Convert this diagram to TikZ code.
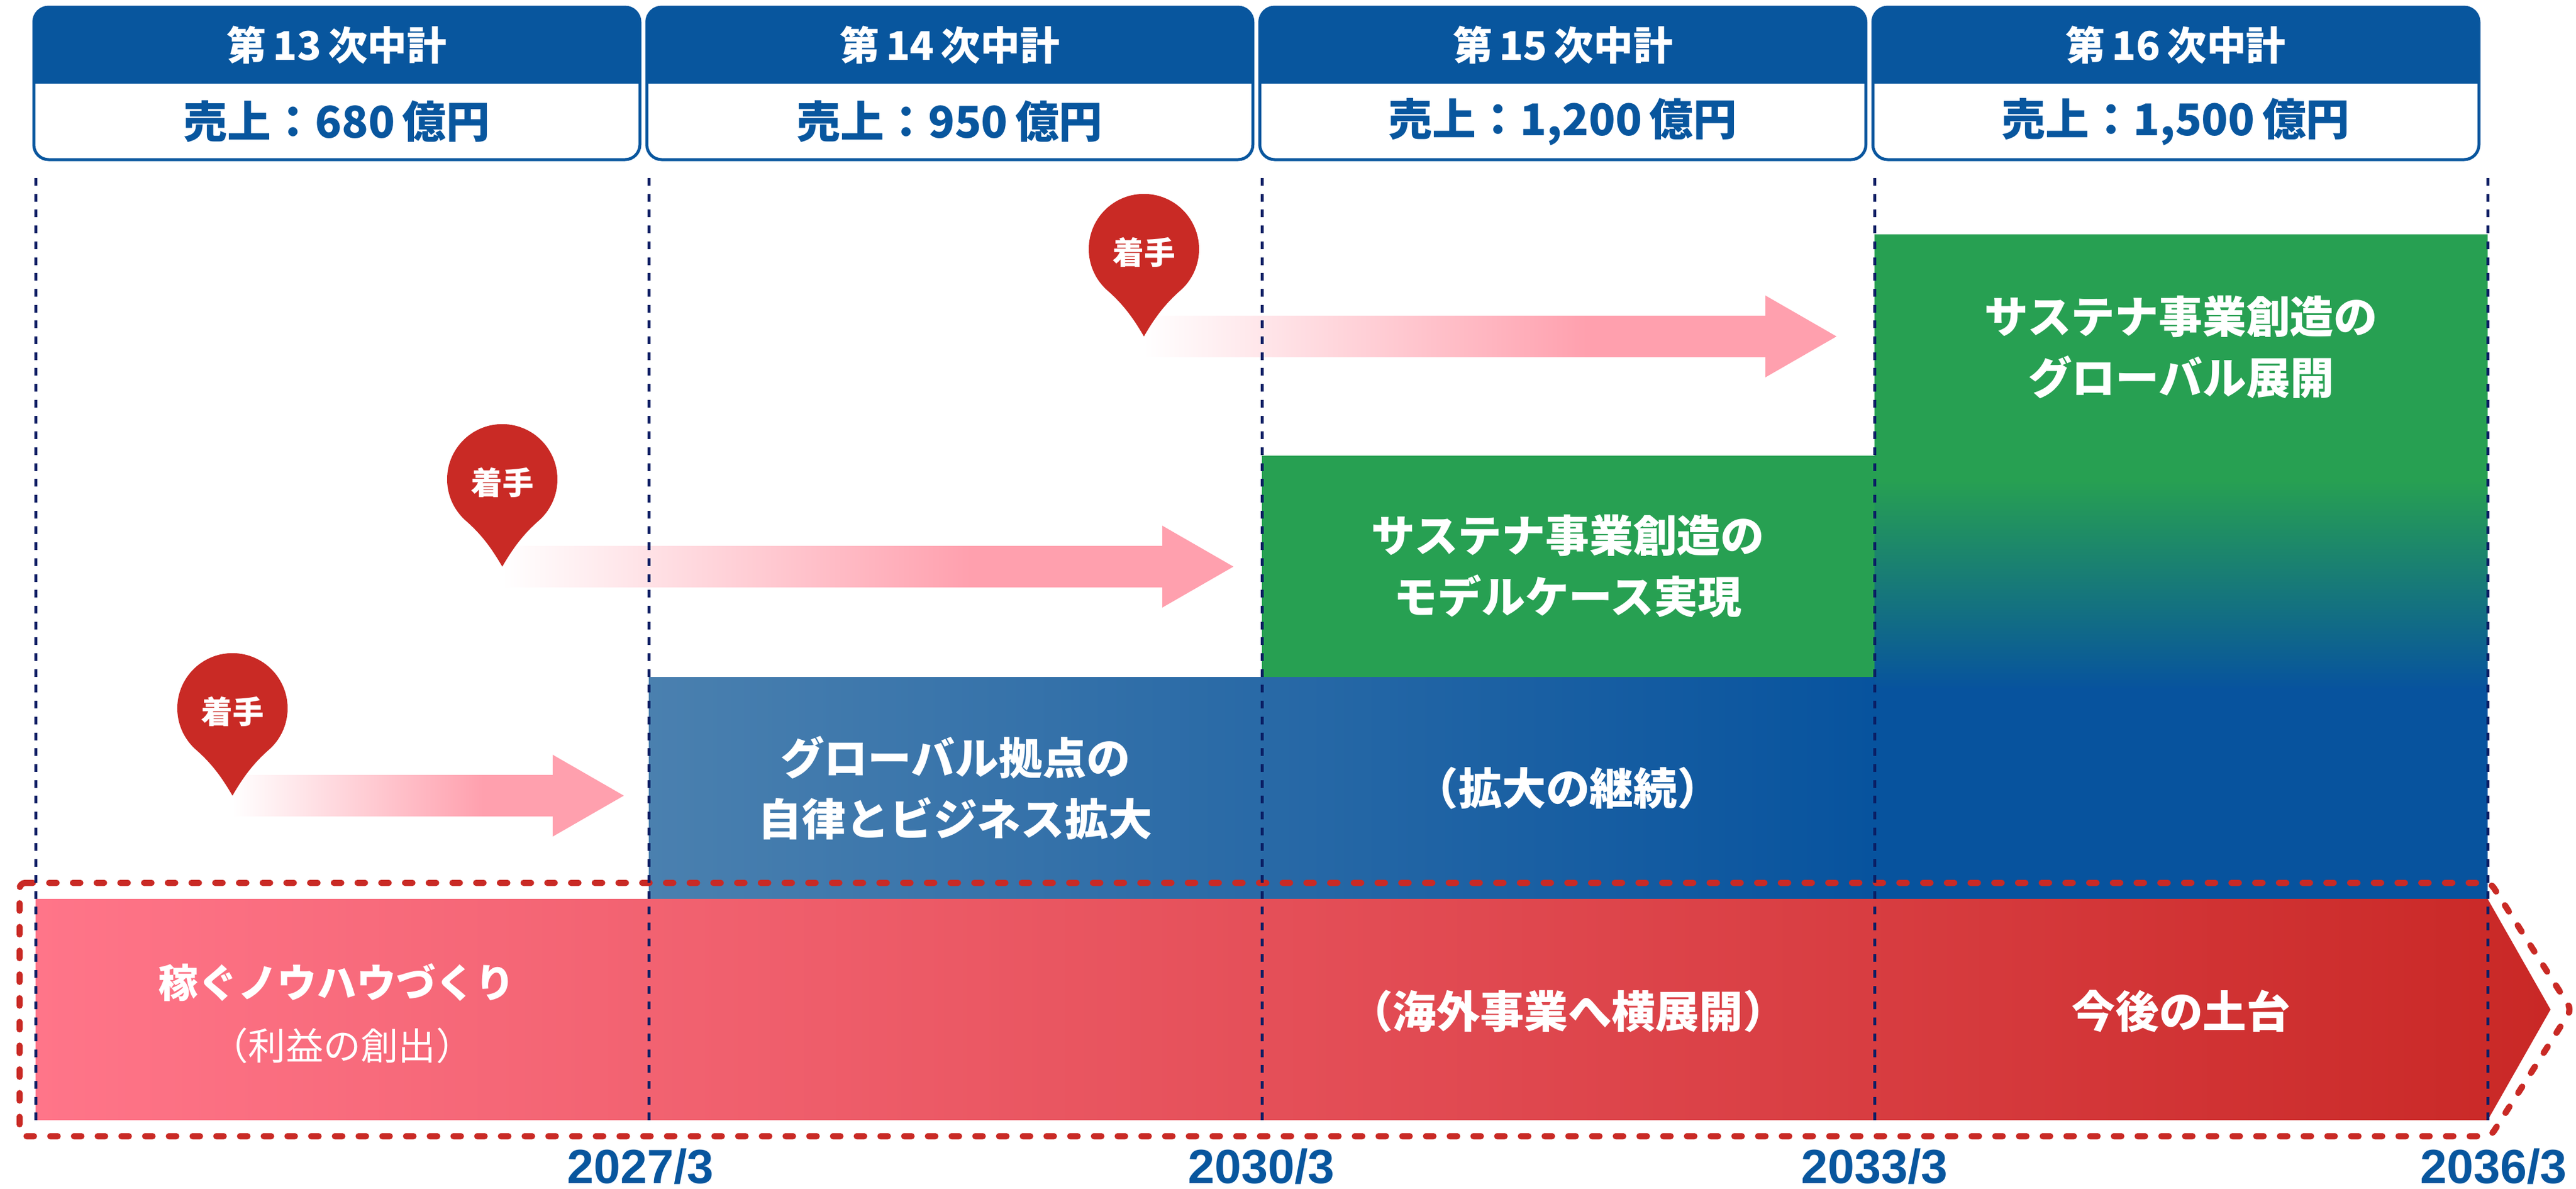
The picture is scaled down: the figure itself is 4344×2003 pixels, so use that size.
\documentclass[tikz,border=0pt]{standalone}
\usepackage{fontspec}
\setmainfont{Noto Sans CJK JP}
\newfontfamily\datefont{Liberation Sans}
\usepackage{tikz}
\usetikzlibrary{calc}
\usepackage{xcolor}

\definecolor{hdrblue}{RGB}{8,86,158}
\definecolor{navyline}{RGB}{10,30,100}
\definecolor{pinred}{RGB}{201,42,37}
\definecolor{arrowpink}{RGB}{255,160,174}
\definecolor{stepgreen}{RGB}{39,160,82}
\definecolor{steelblue}{RGB}{74,128,175}
\definecolor{deepblue}{RGB}{7,83,158}
\definecolor{bandpink}{RGB}{255,117,137}
\definecolor{bandred}{RGB}{201,40,38}

\pgfdeclarehorizontalshading{pinkfade}{100bp}{color(0bp)=(white); color(25bp)=(white); color(57bp)=(arrowpink); color(100bp)=(arrowpink)}

\tikzset{
  termbox/.style={draw=hdrblue, line width=0.5mm, rounded corners=2.5mm},
  termhead/.style={text=white, font=\fontsize{19}{22}\selectfont\bfseries, inner sep=0},
  salestext/.style={text=hdrblue, font=\fontsize{21}{25}\selectfont\bfseries, inner sep=0},
  gridline/.style={navyline, line width=0.5mm, dash pattern=on 1.3mm off 1.37mm},
  frameline/.style={pinred, line width=1.05mm, line cap=round, dash pattern=on 1.25mm off 2.75mm, rounded corners=1mm},
  boxtext/.style={text=white, font=\fontsize{21}{29.3}\selectfont\bfseries, align=center, inner sep=0},
  leadtext/.style={text=white, font=\fontsize{19}{22}\selectfont\bfseries, inner sep=0},
  subtext/.style={text=white, font=\fontsize{18}{22}\selectfont, inner sep=0},
  datetext/.style={text=hdrblue, font=\datefont\fontsize{23}{26}\selectfont\bfseries, inner sep=0},
  pintext/.style={text=white, font=\fontsize{15}{18}\selectfont\bfseries, inner sep=0},
  startpin/.pic={
    \fill[pinred] (0,147) .. controls (17.5,116.7) and (34.7,93.1) .. (61,70)
      arc[start angle=49, end angle=-229, radius=93]
      .. controls (-34.7,93.1) and (-17.5,116.7) .. (0,147) -- cycle;
    \node[pintext] (-label) at (0,5) {着手};
  }
}

\begin{document}
\begin{tikzpicture}[x=0.1mm, y=-0.1mm]
    \useasboundingbox (0,0) rectangle (4344,2003);

    \begin{scope}[xshift=6mm]
        \begin{scope}
            \clip[rounded corners=2.5mm] (-3,12) rectangle (1019,269);
            \fill[hdrblue] (-3,12) rectangle (1019,141);
        \end{scope}
        \draw[termbox] (-3,12) rectangle (1019,269);
        \node[termhead] (h13) at (508,76) {第\thinspace 13\thinspace 次中計};
        \node[salestext] (s13) at (508,205) {売上：680\thinspace 億円};
    \end{scope}
    \begin{scope}[xshift=109.375mm]
        \begin{scope}
            \clip[rounded corners=2.5mm] (-3,12) rectangle (1019,269);
            \fill[hdrblue] (-3,12) rectangle (1019,141);
        \end{scope}
        \draw[termbox] (-3,12) rectangle (1019,269);
        \node[termhead] (h14) at (508,76) {第\thinspace 14\thinspace 次中計};
        \node[salestext] (s14) at (508,205) {売上：950\thinspace 億円};
    \end{scope}
    \begin{scope}[xshift=212.75mm]
        \begin{scope}
            \clip[rounded corners=2.5mm] (-3,12) rectangle (1019,269);
            \fill[hdrblue] (-3,12) rectangle (1019,141);
        \end{scope}
        \draw[termbox] (-3,12) rectangle (1019,269);
        \node[termhead] (h15) at (508,76) {第\thinspace 15\thinspace 次中計};
        \node[salestext] (s15) at (508,205) {売上：1,200\thinspace 億円};
    \end{scope}
    \begin{scope}[xshift=316.125mm]
        \begin{scope}
            \clip[rounded corners=2.5mm] (-3,12) rectangle (1019,269);
            \fill[hdrblue] (-3,12) rectangle (1019,141);
        \end{scope}
        \draw[termbox] (-3,12) rectangle (1019,269);
        \node[termhead] (h16) at (508,76) {第\thinspace 16\thinspace 次中計};
        \node[salestext] (s16) at (508,205) {売上：1,500\thinspace 億円};
    \end{scope}

    \shade[left color=steelblue, right color=deepblue] (1094,1141) rectangle (3161,1516);
    \fill[stepgreen] (2128,768) rectangle (3161,1141);
    \fill[stepgreen] (3161,395) rectangle (4195,810);
    \shade[top color=stepgreen, bottom color=deepblue] (3161,809) rectangle (4195,1162);
    \fill[deepblue] (3161,1161) rectangle (4195,1516);
    \shade[left color=bandpink, right color=bandred] (60,1515) -- (4195,1515)
        -- (4301,1701.5) -- (4195,1888) -- (60,1888) -- cycle;

    \coordinate (pinA) at (392,1194);
    \coordinate (tipA) at (392,1341);
    \coordinate (endA) at (1052,1341);
    \coordinate (pinB) at (847,808);
    \coordinate (tipB) at (847,955);
    \coordinate (endB) at (2080,955);
    \coordinate (pinC) at (1929,420);
    \coordinate (tipC) at (1929,567);
    \coordinate (endC) at (3097,567);
    \shade[shading=pinkfade] ($(tipA)+(0,-35)$) -- ($(endA)+(-120,-35)$) -- ++(0,-34)
        -- (endA) -- ++(-120,69) -- ++(0,-34) -- ($(tipA)+(0,35)$) -- cycle;
    \shade[shading=pinkfade] ($(tipB)+(0,-35)$) -- ($(endB)+(-120,-35)$) -- ++(0,-34)
        -- (endB) -- ++(-120,69) -- ++(0,-34) -- ($(tipB)+(0,35)$) -- cycle;
    \shade[shading=pinkfade] ($(tipC)+(0,-35)$) -- ($(endC)+(-120,-35)$) -- ++(0,-34)
        -- (endC) -- ++(-120,69) -- ++(0,-34) -- ($(tipC)+(0,35)$) -- cycle;
    \pic (pA) at (pinA) {startpin};
    \pic (pB) at (pinB) {startpin};
    \pic (pC) at (pinC) {startpin};

    \draw[frameline] (33,1488) -- (4200,1488) -- (4336,1701.5) -- (4200,1915)
        -- (33,1915) -- cycle;

    \draw[gridline] (60,300) -- (60,1888);
    \draw[gridline] (1094,300) -- (1094,1888);
    \draw[gridline] (2128,300) -- (2128,1888);
    \draw[gridline] (3161,300) -- (3161,1888);
    \draw[gridline] (4195,300) -- (4195,1888);

    \node[boxtext] (globaltxt) at (1611,1328) {グローバル拠点の\\自律とビジネス拡大};
    \node[boxtext] (keeptxt) at (2644,1328) {（拡大の継続）};
    \node[boxtext] (modeltxt) at (2644,954) {サステナ事業創造の\\モデルケース実現};
    \node[boxtext] (worldtxt) at (3678,585) {サステナ事業創造の\\グローバル展開};
    \node[leadtext] (knowhow) at (568,1656) {稼ぐノウハウづくり};
    \node[subtext] (profit) at (577,1762) {（利益の創出）};
    \node[boxtext] (overseas) at (2644,1704) {（海外事業へ横展開）};
    \node[boxtext] (basetxt) at (3678,1704) {今後の土台};

    \node[datetext] (d2027) at (1080,1966) {2027/3};
    \node[datetext] (d2030) at (2127,1966) {2030/3};
    \node[datetext] (d2033) at (3161,1966) {2033/3};
    \node[datetext] (d2036) at (4205,1966) {2036/3};
\end{tikzpicture}
\end{document}
